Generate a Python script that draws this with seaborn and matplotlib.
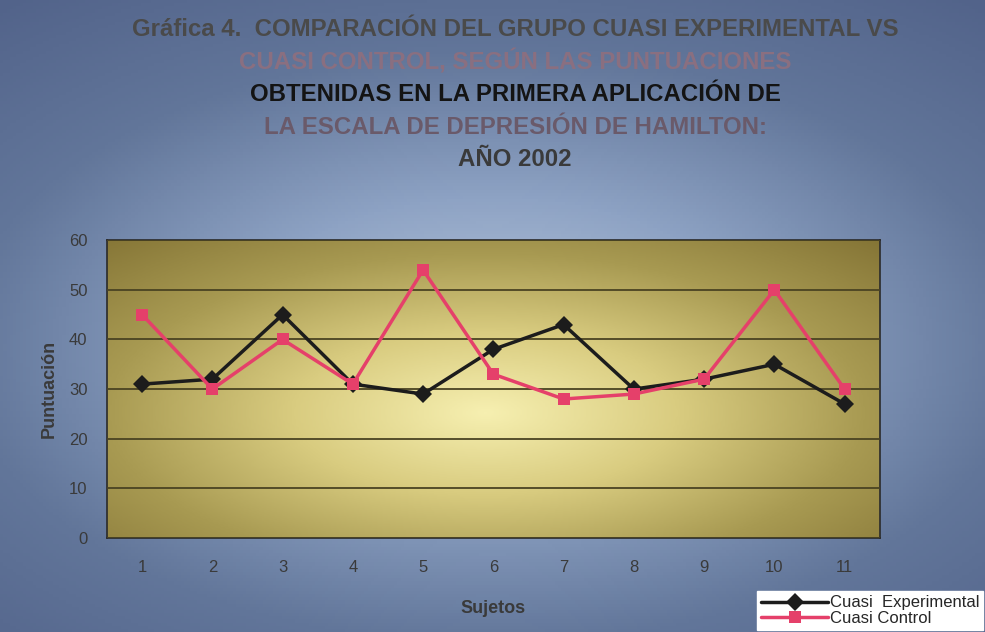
import numpy as np
import pandas as pd
import seaborn as sns
import matplotlib.pyplot as plt
from matplotlib.colors import LinearSegmentedColormap

sujetos = list(range(1, 12))
cuasi_experimental = [31, 32, 45, 31, 29, 38, 43, 30, 32, 35, 27]
cuasi_control = [45, 30, 40, 31, 54, 33, 28, 29, 32, 50, 30]
grupos = ['Cuasi  Experimental', 'Cuasi Control']

titulo = [
    ('Gráfica 4.  COMPARACIÓN DEL GRUPO CUASI EXPERIMENTAL VS', '#4a4a4a'),
    ('CUASI CONTROL, SEGÚN LAS PUNTUACIONES', '#8a6f80'),
    ('OBTENIDAS EN LA PRIMERA APLICACIÓN DE', '#141414'),
    ('LA ESCALA DE DEPRESIÓN DE HAMILTON:', '#6a5a6a'),
    ('AÑO 2002', '#3a3a3a'),
]

df = pd.DataFrame({
    'Sujetos': sujetos * 2,
    'Puntuación': cuasi_experimental + cuasi_control,
    'Grupo': [grupos[0]] * len(sujetos) + [grupos[1]] * len(sujetos),
})

sns.set_style('white')
plt.rcParams['font.family'] = ['Liberation Sans', 'DejaVu Sans']
fig = plt.figure(figsize=(9.85, 6.32), dpi=100)

# blue background with a lighter centre
bg = fig.add_axes([0, 0, 1, 1], zorder=-10)
yy, xx = np.mgrid[0:1:200j, 0:1:300j]
r = np.sqrt(((xx - 0.5) / 0.75) ** 2 + ((yy - 0.45) / 0.65) ** 2)
bg_cmap = LinearSegmentedColormap.from_list('bg', ['#b9c9de', '#8ea3c4', '#62769a', '#52638a'])
bg.imshow(r, cmap=bg_cmap, aspect='auto', extent=[0, 1, 0, 1], origin='lower')
bg.set_axis_off()

ax = fig.add_axes([0.1086, 0.1487, 0.7845, 0.4713])

# olive plot area with a bright centre
yy2, xx2 = np.mgrid[0:1:150j, 0:1:300j]
r2 = np.sqrt(((xx2 - 0.49) / 0.55) ** 2 + ((yy2 - 0.42) / 0.6) ** 2)
pa_cmap = LinearSegmentedColormap.from_list('pa', ['#f6efb0', '#d9cc80', '#a89a52', '#857536'])
ax.imshow(r2, cmap=pa_cmap, aspect='auto', extent=[0.5, 11.5, 0, 60], origin='lower', zorder=0)

sns.lineplot(data=df, x='Sujetos', y='Puntuación', hue='Grupo', style='Grupo',
             palette={grupos[0]: '#1c1c1c', grupos[1]: '#e5406a'},
             markers={grupos[0]: 'D', grupos[1]: 's'}, dashes=False,
             markersize=9, linewidth=2.5, markeredgewidth=0, ax=ax, zorder=3)

ax.set_xlim(0.5, 11.5)
ax.set_ylim(0, 60)
ax.set_xticks(sujetos)
ax.set_yticks(range(0, 61, 10))
ax.yaxis.grid(True, color='#4a4322', linewidth=1.3)
ax.set_axisbelow(False)
for s in ax.spines.values():
    s.set_color('#2a2a2a')
    s.set_linewidth(1.2)
ax.tick_params(axis='both', colors='#3a3a3a', labelsize=12, length=0)
ax.tick_params(axis='x', pad=16)
ax.tick_params(axis='y', pad=14)
ax.set_xlabel('Sujetos', fontsize=13, fontweight='bold', color='#3a3a3a', labelpad=18)
ax.set_ylabel('Puntuación', fontsize=13, fontweight='bold', color='#3a3a3a', labelpad=8)

handles, labels = ax.get_legend_handles_labels()
ax.get_legend().remove()
leg = fig.legend(handles, labels, loc='lower right', bbox_to_anchor=(1.0, 0.0),
                 frameon=True, fancybox=False, fontsize=12, handlelength=4.0,
                 borderpad=0.25, labelspacing=0.05, handletextpad=0.1, borderaxespad=0.1)
leg.get_frame().set_facecolor('white')
leg.get_frame().set_edgecolor('white')
leg.get_frame().set_alpha(1)

y0 = 0.953
for i, (txt, col) in enumerate(titulo):
    fig.text(0.523, y0 - i * 0.0514, txt, ha='center', va='center',
             fontsize=17.3, fontweight='bold', color=col)

plt.savefig('out.png', dpi=100)
